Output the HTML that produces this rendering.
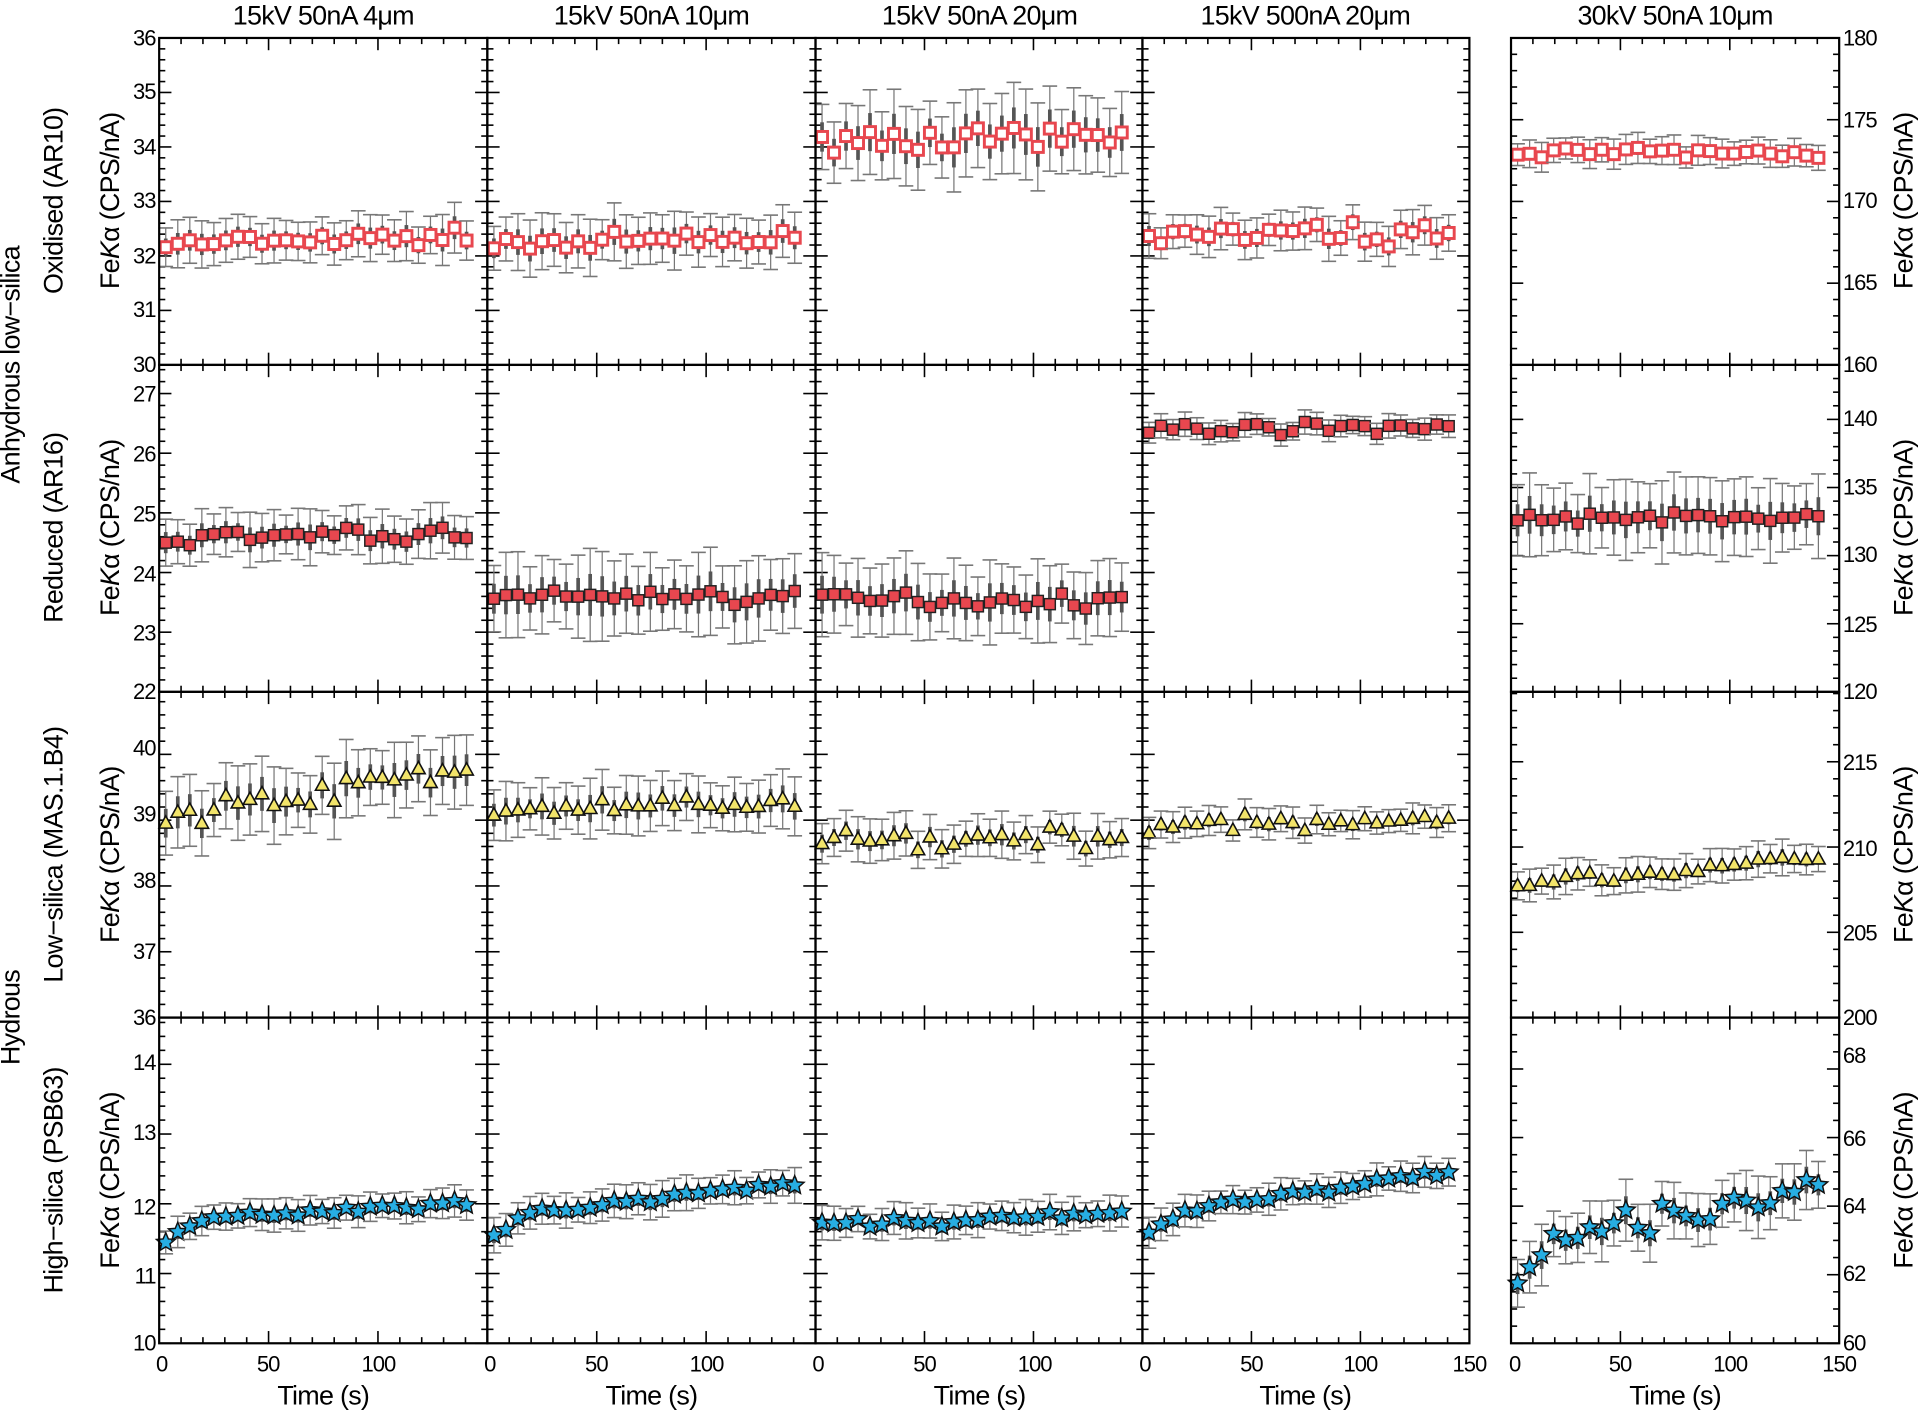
<!DOCTYPE html>
<html><head><meta charset="utf-8"><style>
html,body{margin:0;padding:0;background:#fff}
svg{display:block}
text{font-family:"Liberation Sans",sans-serif;fill:#000}
.t{font-size:18px;letter-spacing:-0.8px}
.h{font-size:22px;letter-spacing:-0.6px}
</style></head><body>
<svg id="s" width="1920" height="1411" viewBox="0 0 1568 1152.3" xmlns="http://www.w3.org/2000/svg">
<g id="g"></g>
<g class="h" text-anchor="middle">
<text x="264" y="20">15kV 50nA 4μm</text>
<text x="532" y="20">15kV 50nA 10μm</text>
<text x="800" y="20">15kV 50nA 20μm</text>
<text x="1066" y="20">15kV 500nA 20μm</text>
<text x="1368" y="20">30kV 50nA 10μm</text>
<text x="264" y="1147">Time (s)</text>
<text x="532" y="1147">Time (s)</text>
<text x="800" y="1147">Time (s)</text>
<text x="1066" y="1147">Time (s)</text>
<text x="1368" y="1147">Time (s)</text>
</g>
<g class="t" text-anchor="middle">
<text x="132" y="1120">0</text><text x="219" y="1120">50</text><text x="309" y="1120">100</text>
<text x="400" y="1120">0</text><text x="487" y="1120">50</text><text x="577" y="1120">100</text>
<text x="668" y="1120">0</text><text x="755" y="1120">50</text><text x="845" y="1120">100</text>
<text x="935" y="1120">0</text><text x="1022" y="1120">50</text><text x="1111" y="1120">100</text><text x="1200" y="1120">150</text>
<text x="1237" y="1120">0</text><text x="1323" y="1120">50</text><text x="1413" y="1120">100</text><text x="1502" y="1120">150</text>
</g>
<g class="t" text-anchor="end">
<text x="127" y="37">36</text><text x="127" y="81">35</text><text x="127" y="126">34</text><text x="127" y="170">33</text><text x="127" y="215">32</text><text x="127" y="259">31</text><text x="127" y="304">30</text>
<text x="127" y="328">27</text><text x="127" y="377">26</text><text x="127" y="426">25</text><text x="127" y="475">24</text><text x="127" y="523">23</text><text x="127" y="571">22</text>
<text x="127" y="617">40</text><text x="127" y="671">39</text><text x="127" y="725">38</text><text x="127" y="783">37</text><text x="127" y="837">36</text>
<text x="127" y="874">14</text><text x="127" y="931">13</text><text x="127" y="992">12</text><text x="127" y="1048">11</text><text x="127" y="1103">10</text>
</g>
<g class="t" text-anchor="start">
<text x="1505" y="37">180</text><text x="1505" y="104">175</text><text x="1505" y="170">170</text><text x="1505" y="237">165</text><text x="1505" y="304">160</text>
<text x="1505" y="348">140</text><text x="1505" y="404">135</text><text x="1505" y="459">130</text><text x="1505" y="516">125</text><text x="1505" y="571">120</text>
<text x="1505" y="629">215</text><text x="1505" y="699">210</text><text x="1505" y="768">205</text><text x="1505" y="837">200</text>
<text x="1505" y="868">68</text><text x="1505" y="936">66</text><text x="1505" y="991">64</text><text x="1505" y="1046">62</text><text x="1505" y="1103">60</text>
</g>
<g class="h" text-anchor="middle">
<text transform="translate(97,164) rotate(-90)">Fe<tspan font-style="italic">K</tspan>α (CPS/nA)</text>
<text transform="translate(97,431) rotate(-90)">Fe<tspan font-style="italic">K</tspan>α (CPS/nA)</text>
<text transform="translate(97,698) rotate(-90)">Fe<tspan font-style="italic">K</tspan>α (CPS/nA)</text>
<text transform="translate(97,964) rotate(-90)">Fe<tspan font-style="italic">K</tspan>α (CPS/nA)</text>
<text transform="translate(1562,164) rotate(-90)">Fe<tspan font-style="italic">K</tspan>α (CPS/nA)</text>
<text transform="translate(1562,431) rotate(-90)">Fe<tspan font-style="italic">K</tspan>α (CPS/nA)</text>
<text transform="translate(1562,698) rotate(-90)">Fe<tspan font-style="italic">K</tspan>α (CPS/nA)</text>
<text transform="translate(1562,964) rotate(-90)">Fe<tspan font-style="italic">K</tspan>α (CPS/nA)</text>
<text transform="translate(51,164) rotate(-90)">Oxidised (AR10)</text>
<text transform="translate(51,431) rotate(-90)">Reduced (AR16)</text>
<text transform="translate(51,698) rotate(-90)">Low−silica (MAS.1.B4)</text>
<text transform="translate(51,964) rotate(-90)">High−silica (PSB63)</text>
<text transform="translate(16,298) rotate(-90)">Anhydrous low−silica</text>
<text transform="translate(16,831) rotate(-90)">Hydrous</text>
</g>
</svg>
<script>
var NS="http://www.w3.org/2000/svg",G=document.getElementById("g");
function el(n,a){var e=document.createElementNS(NS,n);for(var k in a)e.setAttribute(k,a[k]);G.appendChild(e);return e;}
function line(x1,y1,x2,y2,c,w){el("line",{x1:x1,y1:y1,x2:x2,y2:y2,stroke:c||"#000","stroke-width":w||1.5});}
var seed=7;function rnd(){seed=(seed*16807)%2147483647;return seed/2147483647;}
function gauss(){return (rnd()+rnd()+rnd()-1.5)*1.15;}
var cols=[[130,398],[398,666],[666,933],[933,1200],[1234,1502]];
var rows=[[31,298],[298,565],[565,831],[831,1097]];
var L=[[30,36,1,0.2],[22,27.48,1,0.2],[36,40.95,1,0.2],[10,14.67,1,0.2]];
var R=[[160,180,5,1],[120,144,5,1],[200,219.1,5,1],[60,69.5,2,0.5]];
var D=[
[[32.2,32.35,0.13,0.4],[32.25,32.3,0.12,0.45],[34.15,34.15,0.18,0.7],[32.4,32.4,0.15,0.35],[173.1,172.9,0.25,0.8]],
[[24.55,24.65,0.12,0.4],[23.6,23.6,0.1,0.65],[23.55,23.55,0.12,0.6],[26.4,26.45,0.08,0.18],[132.7,132.9,0.35,2.6]],
[[39.0,39.8,0.15,0.5],[39.15,39.25,0.12,0.4],[38.7,38.75,0.15,0.3],[38.9,39.05,0.1,0.2],[207.8,209.4,0.35,0.9]],
[[11.75,12.0,0.05,0.2],[11.8,12.3,0.06,0.22],[11.7,11.85,0.06,0.22],[11.85,12.45,0.06,0.2],[62.9,64.5,0.35,0.8]]];
function star(cx,cy,r){var p=[];for(var i=0;i<10;i++){var a=-Math.PI/2+i*Math.PI/5,rr=i%2?r*0.45:r;p.push((cx+rr*Math.cos(a)).toFixed(1)+","+(cy+rr*Math.sin(a)).toFixed(1));}return p.join(" ");}
for(var r=0;r<4;r++)for(var c=0;c<5;c++){
 var x0=cols[c][0],x1=cols[c][1],y0=rows[r][0],y1=rows[r][1];
 var rg=c==4?R[r]:L[r];
 var Y=function(v){return y1-(v-rg[0])/(rg[1]-rg[0])*(y1-y0);};
 var X=function(t){return x0+t/150*(x1-x0);};
 for(var t=0;t<=150;t+=10){var maj=t%50==0,len=maj?10:5,x=X(t);line(x,y1,x,y1-len,"#000",1.3);line(x,y0,x,y0+len,"#000",1.3);}
 var n=Math.round((rg[1]-rg[0])/rg[3]);
 for(var k=0;k<=n;k++){var v=rg[0]+k*rg[3];if(v>rg[1])break;var mj=Math.abs(v/rg[2]-Math.round(v/rg[2]))<1e-6,len2=mj?10:5,y=Y(v);line(x0,y,x0+len2,y,"#000",1.3);line(x1,y,x1-len2,y,"#000",1.3);}
 var d=D[r][c];
 for(var i=0;i<26;i++){
  var t=3+i*5.5,m=d[0]+(d[1]-d[0])*Math.min(1,t/140)+gauss()*d[2];
  if(r==3&&i<3&&c!=2)m-=(3-i)*(c==4?0.25:0.1);
  var e=d[3]*(0.8+0.4*rnd()),x=X(t),ym=Y(m),yt=Y(m+e),yb=Y(m-e);
  line(x,yt,x,yb,"#777",1);line(x-6,yt,x+6,yt,"#777",1.3);line(x-6,yb,x+6,yb,"#777",1.3);
  line(x,Y(m+e*0.45),x,Y(m-e*0.45),"#555",3);
  if(r==0)el("rect",{x:x-4.5,y:ym-4.5,width:9,height:9,fill:"#fff",stroke:"#e8474f","stroke-width":2.4});
  else if(r==1)el("rect",{x:x-4.5,y:ym-4.5,width:9,height:9,fill:"#e8474f",stroke:"#222","stroke-width":1.2});
  else if(r==2)el("polygon",{points:(x)+","+(ym-6)+" "+(x-5.5)+","+(ym+4)+" "+(x+5.5)+","+(ym+4),fill:"#f2e46a",stroke:"#111","stroke-width":1.3});
  else el("polygon",{points:star(x,ym,8),fill:"#27aee3",stroke:"#111","stroke-width":1.2});
 }
 el("rect",{x:x0,y:y0,width:x1-x0,height:y1-y0,fill:"none",stroke:"#000","stroke-width":1.8});
}
</script>
</body></html>
